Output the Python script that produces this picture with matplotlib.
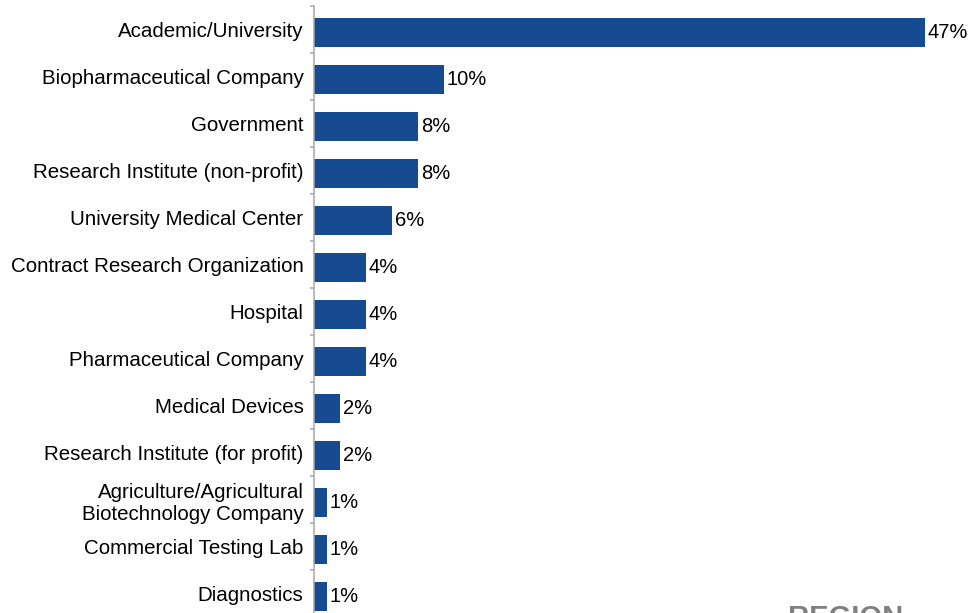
import numpy as np
import matplotlib
matplotlib.use("Agg")
import matplotlib.pyplot as plt

plt.rcParams['font.family'] = ['Liberation Sans', 'DejaVu Sans']

sectors = [
    "Academic/University",
    "Biopharmaceutical Company",
    "Government",
    "Research Institute (non-profit)",
    "University Medical Center",
    "Contract Research Organization",
    "Hospital",
    "Pharmaceutical Company",
    "Medical Devices",
    "Research Institute (for profit)",
    "Agriculture/Agricultural\nBiotechnology Company",
    "Commercial Testing Lab",
    "Diagnostics",
]
shares = [47, 10, 8, 8, 6, 4, 4, 4, 2, 2, 1, 1, 1]

bar_color = "#164a91"
axis_gray = "#a6a6a6"

fig = plt.figure(figsize=(9.7, 6.13), dpi=100)
# axes runs a little past the bottom edge, so the last bar is clipped
ax = fig.add_axes([314 / 970, -4 / 613, 656 / 970, 611 / 613])

n = len(sectors)
pos = np.arange(n)
shift = 0.064  # bars sit slightly below the middle of each slot

ax.barh(pos, shares, height=0.62, color=bar_color, zorder=2)
for y, v in zip(pos, shares):
    ax.annotate(f"{v}%", xy=(v, y), xytext=(3, 0), textcoords="offset pixels",
                va="center", ha="left", fontsize=14.5, color="black")

ax.set_xlim(0, 50.5)
ax.set_ylim(n - 0.5 - shift, -0.5 - shift)

ax.set_yticks(pos - shift)
ax.set_yticklabels(sectors, fontsize=14.75)
ax.set_yticks(np.arange(n + 1) - 0.5 - shift, minor=True)
ax.tick_params(axis="y", which="major", length=0, pad=7.5, labelcolor="black")
ax.tick_params(axis="y", which="minor", length=3, width=1.1, color=axis_gray)
ax.set_xticks([])

for side in ("top", "right", "bottom"):
    ax.spines[side].set_visible(False)
ax.spines["left"].set_color(axis_gray)
ax.spines["left"].set_linewidth(1.1)

fig.text(788 / 970, -13 / 613, "REGION", fontsize=21, fontweight="bold",
         color="#808080", ha="left", va="baseline")

fig.savefig("out.png", dpi=100)
